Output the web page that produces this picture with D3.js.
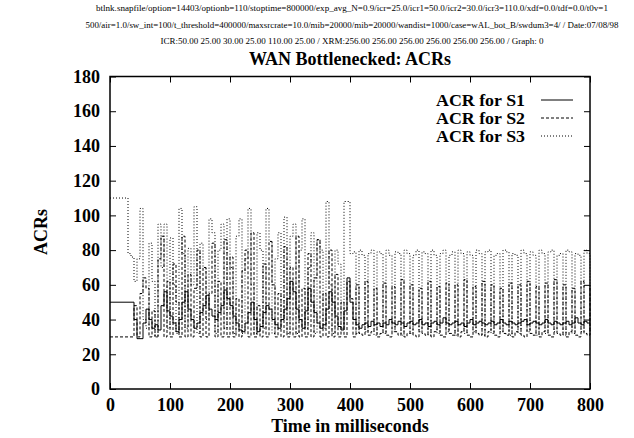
<!DOCTYPE html>
<html><head><meta charset="utf-8">
<script src="https://cdn.jsdelivr.net/npm/d3@7"></script>
<style>body{margin:0;background:#fff}svg{display:block}text{font-family:"Liberation Serif","Times New Roman",serif}</style>
</head><body><svg id="c" width="634" height="438"></svg>
<script>
const headerLines = [
 "btlnk.snapfile/option=14403/optionb=110/stoptime=800000/exp_avg_N=0.9/icr=25.0/icr1=50.0/icr2=30.0/icr3=110.0/xdf=0.0/tdf=0.0/t0v=1",
 "500/air=1.0/sw_int=100/t_threshold=400000/maxsrcrate=10.0/mib=20000/mib=20000/wandist=1000/case=wAL_bot_B/swdum3=4/ / Date:07/08/98",
 "ICR:50.00 25.00 30.00 25.00 110.00 25.00 / XRM:256.00 256.00 256.00 256.00 256.00 256.00 / Graph: 0"
];
const titleText = "WAN Bottlenecked: ACRs";
const xTicks = [0,100,200,300,400,500,600,700,800];
const yTicks = [0,20,40,60,80,100,120,140,160,180];
const seriesNames = ["ACR for S1","ACR for S2","ACR for S3"];
// sample times (ms), one value per 5 ms step
const timesMs = d3.range(0, 801, 5);
const s1 = [
 50,50,50,50,50,50,50,50,40,29,
 29,38,46,40,35,37,34,48,56,45,
 42,38,33,40,50,56,46,40,35,38,
 44,48,54,46,42,40,44,48,57,52,
 48,42,38,34,33,38,44,50,40,33,
 36,44,48,46,40,37,35,40,46,52,
 62,56,46,40,35,45,58,50,44,38,
 35,37,46,56,50,42,36,34,45,64,
 50,40,37,35,37,38,36,39,37,38,
 36,38,37,40,38,37,39,38,36,38,
 39,37,38,40,37,38,36,38,39,37,
 38,41,38,37,38,39,37,38,36,38,
 40,37,38,39,38,37,38,39,37,38,
 40,38,37,39,38,37,38,39,40,37,
 38,39,38,37,38,40,38,37,39,38,
 37,38,39,37,38,41,38,37,39,38,
 38];
const s2 = [
 30,30,30,30,30,30,30,30,48,30,
 55,64,58,30,45,30,75,88,30,62,
 30,72,50,30,88,30,66,30,58,80,
 30,70,30,55,84,30,62,30,86,30,
 76,30,52,30,68,80,30,90,30,48,
 30,72,30,85,60,30,55,30,82,30,
 70,30,88,30,58,30,78,30,64,86,
 30,55,30,80,30,66,30,50,30,62,
 52,30,60,32,31,62,31,33,58,30,
 32,61,31,30,59,33,31,63,30,32,
 60,31,30,58,32,31,62,30,33,59,
 31,30,61,32,31,60,30,33,63,31,
 30,59,32,31,62,30,33,60,31,30,
 58,32,31,61,30,33,60,31,30,62,
 32,31,59,30,33,61,31,30,63,32,
 31,60,30,33,58,31,30,62,32,31,
 60];
const s3 = [
 110,110,110,110,110,110,78,76,62,75,
 104,40,35,84,62,30,95,70,95,35,
 87,60,32,104,78,35,81,60,105,32,
 84,70,40,98,90,32,80,95,35,98,
 70,32,88,98,32,75,104,60,32,90,
 80,35,104,85,32,75,90,40,99,32,
 88,95,32,80,98,35,70,90,32,86,
 80,35,108,60,32,80,72,35,108,108,
 78,79,32,80,77,33,78,80,31,79,
 78,32,80,77,33,79,78,31,80,78,
 32,77,80,33,79,78,31,80,77,32,
 78,80,33,77,79,31,80,78,32,79,
 77,33,80,78,31,79,80,32,77,78,
 33,80,79,31,78,77,32,80,78,33,
 79,77,31,80,78,32,79,80,33,77,
 78,31,80,79,32,78,77,33,80,78,
 32];

const svg = d3.select("#c");
svg.append("rect").attr("width",634).attr("height",438).attr("fill","#fff");
const x = d3.scaleLinear().domain([0,800]).range([110,590]);
const y = d3.scaleLinear().domain([0,180]).range([389,76.5]);

// header
const hdrW = [512, 533, 383];
const hdrY = [11, 28, 43.5];
headerLines.forEach((t,i)=>{
  svg.append("text").attr("x",352).attr("y",hdrY[i]).attr("text-anchor","middle")
    .attr("font-size",8.6).attr("textLength",hdrW[i]).attr("lengthAdjust","spacingAndGlyphs").text(t);
});
svg.append("text").attr("x",350).attr("y",65).attr("text-anchor","middle")
  .attr("font-size",18).attr("font-weight","bold").text(titleText);

// axes
const gx = svg.append("g").attr("transform","translate(0,389)")
  .call(d3.axisBottom(x).tickValues(xTicks).tickSize(-6).tickPadding(9));
const gy = svg.append("g").attr("transform","translate(110,0)")
  .call(d3.axisLeft(y).tickValues(yTicks).tickSize(-6).tickPadding(10));
const gt = svg.append("g").attr("transform","translate(0,76.5)")
  .call(d3.axisTop(x).tickValues(xTicks).tickSize(-6).tickFormat(""));
const gr = svg.append("g").attr("transform","translate(590,0)")
  .call(d3.axisRight(y).tickValues(yTicks).tickSize(-6).tickFormat(""));
[gx,gy,gt,gr].forEach(g=>{
  g.attr("font-family",null);
  g.select(".domain").remove();
  g.selectAll("line").attr("stroke","#000");
  g.selectAll("text").attr("font-size",18).attr("font-weight","bold").attr("fill","#000");
});

// lines
const styles = [null, "3,2", "1,2"];
const line = d3.line().x(d=>x(d.t)).y(d=>y(d.v)).curve(d3.curveStepAfter);
[s1,s2,s3].forEach((s,k)=>{
  const data = timesMs.map((t,i)=>({t, v:s[i]}));
  svg.append("path").datum(data).attr("d",line).attr("fill","none")
    .attr("stroke","#000").attr("stroke-width",1)
    .attr("stroke-dasharray",styles[k]);
});

// frame
svg.append("rect").attr("x",110).attr("y",76.5).attr("width",480).attr("height",312.5)
  .attr("fill","none").attr("stroke","#000").attr("stroke-width",1.5);

// legend
const legY = [100, 118, 136];
seriesNames.forEach((n,k)=>{
  svg.append("text").attr("x",525).attr("y",legY[k]+5.5).attr("text-anchor","end")
    .attr("font-size",16).attr("font-weight","bold")
    .attr("textLength",89).attr("lengthAdjust","spacingAndGlyphs").text(n);
  svg.append("line").attr("x1",541).attr("x2",573).attr("y1",legY[k]).attr("y2",legY[k])
    .attr("stroke","#000").attr("stroke-width",1).attr("stroke-dasharray",styles[k]);
});

// axis titles
svg.append("text").attr("x",350).attr("y",432).attr("text-anchor","middle")
  .attr("font-size",18).attr("font-weight","bold").text("Time in milliseconds");
svg.append("text").attr("transform","translate(47,232) rotate(-90)").attr("text-anchor","middle")
  .attr("font-size",18).attr("font-weight","bold").text("ACRs");
</script></body></html>
